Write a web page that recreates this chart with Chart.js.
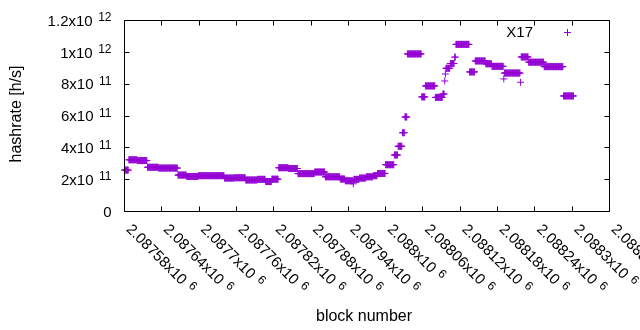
<!DOCTYPE html>
<html><head><meta charset="utf-8">
<script src="https://cdn.jsdelivr.net/npm/chart.js@4.4.1/dist/chart.umd.min.js"></script>
<style>html,body{margin:0;padding:0;background:#fff}#wrap{width:640px;height:330px}canvas{display:block}</style>
</head><body>
<div id="wrap"><canvas id="c"></canvas></div>
<script>
// ---- data ----
const seriesLabel = 'X17';
const xTitle = 'block number';
const yTitle = 'hashrate [h/s]';
const xMin = 2087580, xMax = 2088360, xStep = 60;
const yMin = 0, yMax = 1.2e12, yStep = 2e11;
// runs of consecutive blocks sharing one hashrate value
const runFirstBlock = [2087580,2087587,2087601,2087617,2087635,2087666,2087680,2087699,2087741,2087757,2087775,2087794,2087807,2087817,2087828,2087844,2087859,2087886,2087903,2087927,2087935,2087948,2087949,2087958,2087969,2087980,2087987,2088000,2088014,2088020,2088027,2088031,2088035,2088058,2088064,2088080,2088092,2088095,2088096,2088097,2088104,2088111,2088113,2088135,2088144,2088161,2088171,2088190,2088191,2088217,2088218,2088230,2088255,2088286];
const runLastBlock  = [2087586,2087600,2087616,2087634,2087665,2087679,2087698,2087740,2087756,2087774,2087793,2087806,2087816,2087827,2087843,2087858,2087885,2087902,2087926,2087934,2087947,2087948,2087957,2087968,2087979,2087986,2087999,2088013,2088019,2088026,2088030,2088034,2088057,2088063,2088079,2088091,2088094,2088095,2088096,2088103,2088110,2088112,2088134,2088143,2088160,2088170,2088189,2088190,2088216,2088217,2088229,2088254,2088285,2088302];
// hashrate in units of 1e11 h/s
const runHashrate   = [2.60,3.25,3.20,2.78,2.73,2.29,2.20,2.25,2.10,2.12,1.98,2.02,1.88,2.03,2.75,2.70,2.38,2.48,2.18,2.04,1.93,1.74,2.02,2.10,2.18,2.25,2.39,2.94,3.55,4.10,4.95,5.94,9.90,7.20,7.89,7.17,7.38,8.20,8.64,9.00,9.30,9.70,10.50,8.77,9.46,9.28,9.12,8.33,8.70,8.12,9.71,9.38,9.10,7.26];

const points = [];
runFirstBlock.forEach((b0, i) => {
  for (let b = b0; b <= runLastBlock[i]; b++) points.push({x: b, y: runHashrate[i] * 1e11});
});

const COLOR = '#9400D3';
const FONT = '"Liberation Sans", Arial, sans-serif';

function sciParts(v) {
  if (v === 0) return ['0', ''];
  const e = Math.floor(Math.log10(Math.abs(v)) + 1e-9);
  const m = parseFloat((v / Math.pow(10, e)).toPrecision(6));
  return [m + 'x10', String(e)];
}

const frame = {
  id: 'gnuframe',
  afterDraw(chart) {
    const {ctx, chartArea: a, scales: {x, y}} = chart;
    const TL = 5;
    ctx.save();
    ctx.strokeStyle = '#000';
    ctx.lineWidth = 1;
    const L = Math.floor(a.left) + 0.5, R = Math.floor(a.right) + 0.5;
    const T = Math.floor(a.top) + 0.5, B = Math.floor(a.bottom) + 0.5;
    ctx.beginPath();
    ctx.rect(L, T, R - L, B - T);
    x.ticks.forEach(t => {
      const px = Math.floor(x.getPixelForValue(t.value)) + 0.5;
      ctx.moveTo(px, B); ctx.lineTo(px, B - TL);
      ctx.moveTo(px, T); ctx.lineTo(px, T + TL);
    });
    y.ticks.forEach(t => {
      const py = Math.floor(y.getPixelForValue(t.value)) + 0.5;
      ctx.moveTo(L, py); ctx.lineTo(L + TL, py);
      ctx.moveTo(R, py); ctx.lineTo(R - TL, py);
    });
    ctx.stroke();

    ctx.fillStyle = '#000';
    // y tick labels
    const yRight = 111.5;
    y.ticks.forEach(t => {
      const py = y.getPixelForValue(t.value);
      const [main, sup] = sciParts(t.value);
      ctx.textAlign = 'left';
      ctx.textBaseline = 'alphabetic';
      ctx.font = '12px ' + FONT;
      const sw = sup ? ctx.measureText(sup).width : 0;
      ctx.font = '15px ' + FONT;
      const mw = ctx.measureText(main).width;
      const gap = sup ? 5.5 : 0;
      const x0 = yRight - sw - gap - mw;
      ctx.fillText(main, x0, py + 5.3);
      if (sup) {
        ctx.font = '12px ' + FONT;
        ctx.fillText(sup, x0 + mw + gap, py + 0.8);
      }
    });
    // x tick labels, rotated
    x.ticks.forEach(t => {
      const px = x.getPixelForValue(t.value);
      const [main, sup] = sciParts(t.value);
      ctx.save();
      ctx.translate(px + 1, 230);
      ctx.rotate(Math.PI / 4);
      ctx.textAlign = 'left';
      ctx.textBaseline = 'alphabetic';
      ctx.font = '15px ' + FONT;
      const mw = ctx.measureText(main).width;
      ctx.fillText(main, 0, 0);
      ctx.font = '12px ' + FONT;
      ctx.fillText(sup, mw + 5.5, -4.5);
      ctx.restore();
    });
    // axis titles
    ctx.font = '16px ' + FONT;
    ctx.textAlign = 'center';
    ctx.textBaseline = 'alphabetic';
    ctx.fillText(xTitle, 364, 321);
    ctx.save();
    ctx.translate(21, 114);
    ctx.rotate(-Math.PI / 2);
    ctx.fillText(yTitle, 0, 0);
    ctx.restore();
    // legend
    ctx.font = '15px ' + FONT;
    ctx.textAlign = 'right';
    ctx.fillText(chart.data.datasets[0].label, 533, 37);
    ctx.strokeStyle = COLOR;
    ctx.beginPath();
    ctx.moveTo(564, 32.5); ctx.lineTo(571, 32.5);
    ctx.moveTo(567.5, 29); ctx.lineTo(567.5, 36);
    ctx.stroke();
    ctx.restore();
  }
};

new Chart(document.getElementById('c'), {
  type: 'scatter',
  data: {
    datasets: [{
      label: seriesLabel,
      data: points,
      pointStyle: 'cross',
      pointRadius: 3.5,
      pointHoverRadius: 3.5,
      borderWidth: 1,
      borderColor: COLOR,
      backgroundColor: COLOR,
      showLine: false,
      clip: false
    }]
  },
  options: {
    responsive: true,
    maintainAspectRatio: false,
    animation: false,
    events: [],
    layout: {padding: {left: 124.5, right: 30.5, top: 20.5, bottom: 118.5}, autoPadding: false},
    plugins: {legend: {display: false}, tooltip: {enabled: false}},
    scales: {
      x: {
        type: 'linear', min: xMin, max: xMax,
        ticks: {display: false, stepSize: xStep, padding: 0},
        grid: {display: false, drawTicks: false, tickLength: 0}, border: {display: false}, title: {display: false}
      },
      y: {
        type: 'linear', min: yMin, max: yMax,
        ticks: {display: false, stepSize: yStep, padding: 0},
        grid: {display: false, drawTicks: false, tickLength: 0}, border: {display: false}, title: {display: false}
      }
    }
  },
  plugins: [frame]
});
</script>
</body></html>
